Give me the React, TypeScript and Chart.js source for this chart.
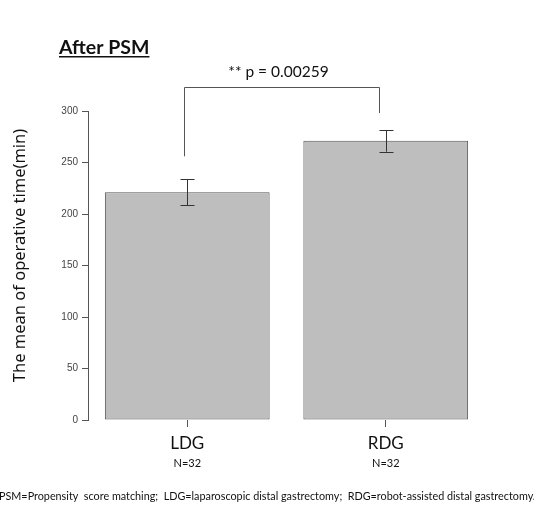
import React, { useEffect, useRef } from "react";
import { Chart, registerables } from "chart.js";

Chart.register(...registerables);

const categories = ["LDG", "RDG"];
const groupSizes = ["N=32", "N=32"];
const means = [221, 271];
const errors = [12.5, 10.5];
const yMin = 0;
const yMax = 300;
const yStep = 50;
const bracketTop = 323;
const bracketEnds = [256, 298];
const pLabel = "** p = 0.00259";
const titleText = "After PSM";
const yTitle = "The mean of operative time(min)";
const footnote =
  "PSM=Propensity  score matching;  LDG=laparoscopic distal gastrectomy;  RDG=robot-assisted distal gastrectomy.";

const overlayPlugin = {
  id: "overlay",
  afterDatasetsDraw(chart: any) {
    const ctx = chart.ctx;
    const xs = chart.scales.x;
    const ys = chart.scales.y;
    ctx.save();
    ctx.strokeStyle = "#333";
    ctx.lineWidth = 1;
    // error bars
    means.forEach((m, i) => {
      const x = Math.round(xs.getPixelForValue(i)) + 0.5;
      const yTop = ys.getPixelForValue(m + errors[i]);
      const yBot = ys.getPixelForValue(m - errors[i]);
      ctx.beginPath();
      ctx.moveTo(x, yTop);
      ctx.lineTo(x, yBot);
      ctx.moveTo(x - 7, Math.round(yTop) + 0.5);
      ctx.lineTo(x + 7, Math.round(yTop) + 0.5);
      ctx.moveTo(x - 7, Math.round(yBot) + 0.5);
      ctx.lineTo(x + 7, Math.round(yBot) + 0.5);
      ctx.stroke();
    });
    // bracket
    const x0 = Math.round(xs.getPixelForValue(0)) - 2.5;
    const x1 = Math.round(xs.getPixelForValue(1)) - 6.5;
    const yb = Math.round(ys.getPixelForValue(bracketTop)) + 0.5;
    ctx.strokeStyle = "#555";
    ctx.beginPath();
    ctx.moveTo(x0, ys.getPixelForValue(bracketEnds[0]));
    ctx.lineTo(x0, yb);
    ctx.lineTo(x1, yb);
    ctx.lineTo(x1, ys.getPixelForValue(bracketEnds[1]));
    ctx.stroke();
    ctx.restore();
  },
  afterDraw(chart: any) {
    const ctx = chart.ctx;
    const xs = chart.scales.x;
    const ys = chart.scales.y;
    ctx.save();
    ctx.fillStyle = "#111";
    // title
    ctx.font = "bold 19.5px Lato";
    ctx.textAlign = "left";
    ctx.textBaseline = "alphabetic";
    ctx.fillText(titleText, 59, 54);
    const tw = ctx.measureText(titleText).width;
    ctx.fillRect(59, 56, tw, 1.5);
    // p value
    ctx.font = "15.5px Lato";
    ctx.textAlign = "center";
    const xm = (xs.getPixelForValue(0) + xs.getPixelForValue(1)) / 2 - 8;
    ctx.fillText(pLabel, xm, 77);
    // group sizes
    ctx.font = "11px Lato";
    groupSizes.forEach((g, i) => {
      ctx.fillText(g, xs.getPixelForValue(i), 467);
    });
    // y title
    ctx.save();
    ctx.translate(25, (ys.top + ys.bottom) / 2 - 10);
    ctx.rotate(-Math.PI / 2);
    ctx.font = "16.5px 'Noto Sans'";
    ctx.textAlign = "center";
    ctx.fillText(yTitle, 0, 0);
    ctx.restore();
    // footnote
    ctx.font = "10.8px Lato";
    ctx.textAlign = "left";
    ctx.fillText(footnote, -1, 500);
    ctx.restore();
  },
};

export default function App() {
  const ref = useRef<HTMLCanvasElement>(null);
  useEffect(() => {
    const chart = new Chart(ref.current as HTMLCanvasElement, {
      type: "bar",
      data: {
        labels: categories,
        datasets: [
          {
            data: means,
            backgroundColor: "#bebebe",
            borderColor: "#555",
            borderWidth: 1,
            borderSkipped: false,
            barPercentage: 0.83,
            categoryPercentage: 1,
          },
        ],
      },
      options: {
        responsive: false,
        animation: false,
        layout: { padding: { top: 111, right: 49, bottom: 0, left: 0 } },
        plugins: { legend: { display: false }, tooltip: { enabled: false }, title: { display: false } },
        scales: {
          x: {
            offset: true,
            grid: { display: true, drawOnChartArea: false, offset: false, tickLength: 7, color: "#555" },
            border: { display: false },
            ticks: { font: { family: "Lato", size: 17 }, color: "#111", padding: 6 },
            afterFit: (s: any) => {
              s.height = 85;
            },
          },
          y: {
            min: yMin,
            max: yMax,
            ticks: { stepSize: yStep, font: { family: "'Liberation Sans'", size: 10 }, color: "#444", padding: 4 },
            grid: { drawOnChartArea: false, tickLength: 6, color: "#555" },
            border: { display: true, color: "#555" },
            afterFit: (s: any) => {
              s.width = 88;
            },
          },
        },
      },
      plugins: [overlayPlugin],
    });
    return () => chart.destroy();
  }, []);
  return (
    <div style={{ position: "absolute", left: 0, top: 0, width: 534, height: 505, background: "#fff" }}>
      <canvas ref={ref} width={534} height={505} />
    </div>
  );
}
